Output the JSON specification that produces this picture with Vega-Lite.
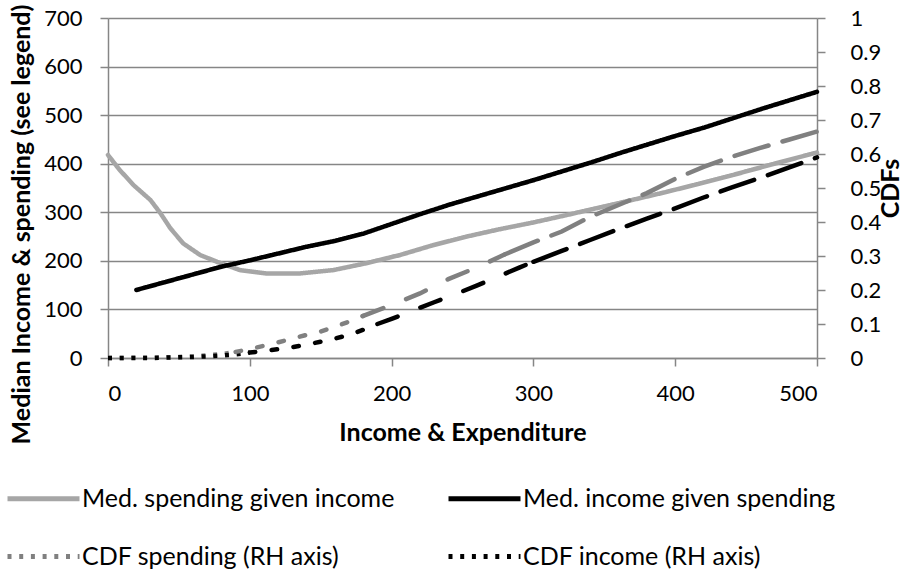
{
  "$schema": "https://vega.github.io/schema/vega-lite/v6.json",
  "width": 709,
  "height": 340,
  "autosize": "none",
  "padding": {"left": 108, "top": 18, "right": 89, "bottom": 212},
  "config": {
    "view": {"stroke": null},
    "font": "Lato",
    "axis": {
      "domainColor": "#868686",
      "domainWidth": 1.5,
      "tickColor": "#868686",
      "tickWidth": 1.5,
      "tickSize": 8,
      "gridColor": "#868686",
      "gridWidth": 1.5,
      "labelColor": "#000000",
      "labelFont": "Lato",
      "labelFontSize": 22,
      "titleFont": "Lato",
      "titleFontSize": 25,
      "titleFontWeight": "bold",
      "titleColor": "#000000"
    }
  },
  "datasets": {
    "med": [
      {"series": "Med. spending given income", "x": 0, "y": 418},
      {"series": "Med. spending given income", "x": 8, "y": 388},
      {"series": "Med. spending given income", "x": 18, "y": 356},
      {"series": "Med. spending given income", "x": 30, "y": 325},
      {"series": "Med. spending given income", "x": 37, "y": 298},
      {"series": "Med. spending given income", "x": 44, "y": 267},
      {"series": "Med. spending given income", "x": 53, "y": 236},
      {"series": "Med. spending given income", "x": 65, "y": 212},
      {"series": "Med. spending given income", "x": 77, "y": 198},
      {"series": "Med. spending given income", "x": 93, "y": 181},
      {"series": "Med. spending given income", "x": 112, "y": 174},
      {"series": "Med. spending given income", "x": 135, "y": 174},
      {"series": "Med. spending given income", "x": 159, "y": 181},
      {"series": "Med. spending given income", "x": 182, "y": 195},
      {"series": "Med. spending given income", "x": 206, "y": 212},
      {"series": "Med. spending given income", "x": 229, "y": 232},
      {"series": "Med. spending given income", "x": 253, "y": 250},
      {"series": "Med. spending given income", "x": 276, "y": 265},
      {"series": "Med. spending given income", "x": 300, "y": 279},
      {"series": "Med. spending given income", "x": 323, "y": 294},
      {"series": "Med. spending given income", "x": 359, "y": 318},
      {"series": "Med. spending given income", "x": 394, "y": 342},
      {"series": "Med. spending given income", "x": 420, "y": 361},
      {"series": "Med. spending given income", "x": 441, "y": 377},
      {"series": "Med. spending given income", "x": 470, "y": 400},
      {"series": "Med. spending given income", "x": 500, "y": 423},
      {"series": "Med. income given spending", "x": 20, "y": 140},
      {"series": "Med. income given spending", "x": 40, "y": 156},
      {"series": "Med. income given spending", "x": 60, "y": 172},
      {"series": "Med. income given spending", "x": 80, "y": 188},
      {"series": "Med. income given spending", "x": 100, "y": 201},
      {"series": "Med. income given spending", "x": 120, "y": 215},
      {"series": "Med. income given spending", "x": 140, "y": 229},
      {"series": "Med. income given spending", "x": 160, "y": 241},
      {"series": "Med. income given spending", "x": 180, "y": 256},
      {"series": "Med. income given spending", "x": 200, "y": 276},
      {"series": "Med. income given spending", "x": 220, "y": 296},
      {"series": "Med. income given spending", "x": 240, "y": 315},
      {"series": "Med. income given spending", "x": 260, "y": 332},
      {"series": "Med. income given spending", "x": 280, "y": 349},
      {"series": "Med. income given spending", "x": 300, "y": 366},
      {"series": "Med. income given spending", "x": 320, "y": 384},
      {"series": "Med. income given spending", "x": 340, "y": 402},
      {"series": "Med. income given spending", "x": 360, "y": 421},
      {"series": "Med. income given spending", "x": 380, "y": 439},
      {"series": "Med. income given spending", "x": 400, "y": 457},
      {"series": "Med. income given spending", "x": 420, "y": 474},
      {"series": "Med. income given spending", "x": 440, "y": 493},
      {"series": "Med. income given spending", "x": 460, "y": 512},
      {"series": "Med. income given spending", "x": 480, "y": 530},
      {"series": "Med. income given spending", "x": 500, "y": 548}
    ],
    "cdf": [
      {"series": "CDF spending (RH axis)", "part": "dot", "x": 0, "c": 0},
      {"series": "CDF spending (RH axis)", "part": "dot", "x": 10, "c": 0},
      {"series": "CDF spending (RH axis)", "part": "dot", "x": 20, "c": 0.001},
      {"series": "CDF spending (RH axis)", "part": "dot", "x": 30, "c": 0.001},
      {"series": "CDF spending (RH axis)", "part": "dot", "x": 40, "c": 0.002},
      {"series": "CDF spending (RH axis)", "part": "dot", "x": 50, "c": 0.003},
      {"series": "CDF spending (RH axis)", "part": "dot", "x": 60, "c": 0.005},
      {"series": "CDF spending (RH axis)", "part": "dot", "x": 70, "c": 0.008},
      {"series": "CDF spending (RH axis)", "part": "dot", "x": 80, "c": 0.011},
      {"series": "CDF spending (RH axis)", "part": "dot", "x": 90, "c": 0.018},
      {"series": "CDF spending (RH axis)", "part": "short", "x": 90, "c": 0.018},
      {"series": "CDF spending (RH axis)", "part": "short", "x": 100, "c": 0.026},
      {"series": "CDF spending (RH axis)", "part": "short", "x": 110, "c": 0.036},
      {"series": "CDF spending (RH axis)", "part": "short", "x": 120, "c": 0.046},
      {"series": "CDF spending (RH axis)", "part": "short", "x": 130, "c": 0.057},
      {"series": "CDF spending (RH axis)", "part": "short", "x": 140, "c": 0.068},
      {"series": "CDF spending (RH axis)", "part": "short", "x": 150, "c": 0.078},
      {"series": "CDF spending (RH axis)", "part": "short", "x": 160, "c": 0.092},
      {"series": "CDF spending (RH axis)", "part": "short", "x": 170, "c": 0.107},
      {"series": "CDF spending (RH axis)", "part": "short", "x": 180, "c": 0.124},
      {"series": "CDF spending (RH axis)", "part": "mid", "x": 180, "c": 0.124},
      {"series": "CDF spending (RH axis)", "part": "mid", "x": 190, "c": 0.14},
      {"series": "CDF spending (RH axis)", "part": "mid", "x": 200, "c": 0.156},
      {"series": "CDF spending (RH axis)", "part": "mid", "x": 220, "c": 0.19},
      {"series": "CDF spending (RH axis)", "part": "mid", "x": 240, "c": 0.232},
      {"series": "CDF spending (RH axis)", "part": "mid", "x": 260, "c": 0.266},
      {"series": "CDF spending (RH axis)", "part": "mid", "x": 280, "c": 0.305},
      {"series": "CDF spending (RH axis)", "part": "long", "x": 280, "c": 0.305},
      {"series": "CDF spending (RH axis)", "part": "long", "x": 300, "c": 0.34},
      {"series": "CDF spending (RH axis)", "part": "long", "x": 320, "c": 0.372},
      {"series": "CDF spending (RH axis)", "part": "long", "x": 340, "c": 0.415},
      {"series": "CDF spending (RH axis)", "part": "long", "x": 360, "c": 0.45},
      {"series": "CDF spending (RH axis)", "part": "long", "x": 380, "c": 0.485},
      {"series": "CDF spending (RH axis)", "part": "long", "x": 400, "c": 0.527},
      {"series": "CDF spending (RH axis)", "part": "long", "x": 420, "c": 0.562},
      {"series": "CDF spending (RH axis)", "part": "long", "x": 440, "c": 0.592},
      {"series": "CDF spending (RH axis)", "part": "long", "x": 460, "c": 0.618},
      {"series": "CDF spending (RH axis)", "part": "long", "x": 480, "c": 0.642},
      {"series": "CDF spending (RH axis)", "part": "long", "x": 500, "c": 0.666},
      {"series": "CDF income (RH axis)", "part": "dot", "x": 0, "c": 0},
      {"series": "CDF income (RH axis)", "part": "dot", "x": 10, "c": 0},
      {"series": "CDF income (RH axis)", "part": "dot", "x": 20, "c": 0},
      {"series": "CDF income (RH axis)", "part": "dot", "x": 30, "c": 0},
      {"series": "CDF income (RH axis)", "part": "dot", "x": 40, "c": 0.001},
      {"series": "CDF income (RH axis)", "part": "dot", "x": 50, "c": 0.002},
      {"series": "CDF income (RH axis)", "part": "dot", "x": 60, "c": 0.003},
      {"series": "CDF income (RH axis)", "part": "dot", "x": 70, "c": 0.005},
      {"series": "CDF income (RH axis)", "part": "dot", "x": 80, "c": 0.007},
      {"series": "CDF income (RH axis)", "part": "dot", "x": 90, "c": 0.011},
      {"series": "CDF income (RH axis)", "part": "dot", "x": 100, "c": 0.016},
      {"series": "CDF income (RH axis)", "part": "short", "x": 100, "c": 0.016},
      {"series": "CDF income (RH axis)", "part": "short", "x": 110, "c": 0.021},
      {"series": "CDF income (RH axis)", "part": "short", "x": 120, "c": 0.026},
      {"series": "CDF income (RH axis)", "part": "short", "x": 130, "c": 0.032},
      {"series": "CDF income (RH axis)", "part": "short", "x": 140, "c": 0.039},
      {"series": "CDF income (RH axis)", "part": "short", "x": 150, "c": 0.048},
      {"series": "CDF income (RH axis)", "part": "short", "x": 160, "c": 0.057},
      {"series": "CDF income (RH axis)", "part": "short", "x": 170, "c": 0.068},
      {"series": "CDF income (RH axis)", "part": "short", "x": 180, "c": 0.083},
      {"series": "CDF income (RH axis)", "part": "short", "x": 190, "c": 0.1},
      {"series": "CDF income (RH axis)", "part": "mid", "x": 190, "c": 0.1},
      {"series": "CDF income (RH axis)", "part": "mid", "x": 200, "c": 0.115},
      {"series": "CDF income (RH axis)", "part": "mid", "x": 210, "c": 0.131},
      {"series": "CDF income (RH axis)", "part": "mid", "x": 220, "c": 0.148},
      {"series": "CDF income (RH axis)", "part": "mid", "x": 230, "c": 0.164},
      {"series": "CDF income (RH axis)", "part": "mid", "x": 240, "c": 0.18},
      {"series": "CDF income (RH axis)", "part": "mid", "x": 250, "c": 0.196},
      {"series": "CDF income (RH axis)", "part": "mid", "x": 260, "c": 0.213},
      {"series": "CDF income (RH axis)", "part": "mid", "x": 270, "c": 0.23},
      {"series": "CDF income (RH axis)", "part": "mid", "x": 280, "c": 0.248},
      {"series": "CDF income (RH axis)", "part": "mid", "x": 290, "c": 0.266},
      {"series": "CDF income (RH axis)", "part": "mid", "x": 300, "c": 0.283},
      {"series": "CDF income (RH axis)", "part": "long", "x": 300, "c": 0.283},
      {"series": "CDF income (RH axis)", "part": "long", "x": 320, "c": 0.315},
      {"series": "CDF income (RH axis)", "part": "long", "x": 340, "c": 0.347},
      {"series": "CDF income (RH axis)", "part": "long", "x": 360, "c": 0.379},
      {"series": "CDF income (RH axis)", "part": "long", "x": 380, "c": 0.41},
      {"series": "CDF income (RH axis)", "part": "long", "x": 400, "c": 0.44},
      {"series": "CDF income (RH axis)", "part": "long", "x": 420, "c": 0.472},
      {"series": "CDF income (RH axis)", "part": "long", "x": 440, "c": 0.502},
      {"series": "CDF income (RH axis)", "part": "long", "x": 460, "c": 0.53},
      {"series": "CDF income (RH axis)", "part": "long", "x": 480, "c": 0.56},
      {"series": "CDF income (RH axis)", "part": "long", "x": 500, "c": 0.59}
    ]
  },
  "layer": [
    {
      "data": {"name": "med"},
      "mark": {"type": "line", "strokeWidth": 4.5, "strokeCap": "round", "strokeJoin": "round"},
      "encoding": {
        "x": {
          "field": "x", "type": "quantitative",
          "scale": {"domain": [0, 500], "nice": false},
          "axis": {
            "values": [0, 100, 200, 300, 400, 500],
            "grid": false,
            "labelPadding": 17,
            "title": "Income & Expenditure",
            "titlePadding": 16
          }
        },
        "y": {
          "field": "y", "type": "quantitative",
          "scale": {"domain": [0, 700], "nice": false},
          "axis": {
            "orient": "left",
            "values": [0, 100, 200, 300, 400, 500, 600, 700],
            "grid": true,
            "labelPadding": 18,
            "title": "Median Income & spending (see legend)",
            "titlePadding": 9,
            "titleY": 206
          }
        },
        "color": {
          "field": "series", "type": "nominal",
          "scale": {
            "domain": ["Med. spending given income", "CDF spending (RH axis)", "Med. income given spending", "CDF income (RH axis)"],
            "range": ["#a6a6a6", "#808080", "#000000", "#000000"]
          },
          "legend": {
            "title": null,
            "orient": "none",
            "legendX": -103,
            "legendY": 442,
            "columns": 2,
            "symbolType": "stroke",
            "symbolSize": 5184,
            "symbolStrokeWidth": 5,
            "labelFont": "Lato",
            "labelFontSize": 25,
            "labelColor": "#000000",
            "labelOffset": 0,
            "labelLimit": 500,
            "columnPadding": 43,
            "rowPadding": 6
          }
        },
        "strokeDash": {
          "field": "series", "type": "nominal",
          "scale": {
            "domain": ["Med. spending given income", "CDF spending (RH axis)", "Med. income given spending", "CDF income (RH axis)"],
            "range": [[1, 0], [4, 7.7], [1, 0], [4, 7.7]]
          },
          "legend": {"title": null}
        }
      }
    },
    {
      "data": {"name": "cdf"},
      "encoding": {
        "x": {"field": "x", "type": "quantitative"},
        "y": {
          "field": "c", "type": "quantitative",
          "scale": {"domain": [0, 1], "nice": false},
          "axis": {
            "orient": "right",
            "values": [0, 0.1, 0.2, 0.3, 0.4, 0.5, 0.6, 0.7, 0.8, 0.9, 1],
            "format": "~g",
            "grid": false,
            "labelPadding": 25,
            "title": "CDFs",
            "titleAngle": -90,
            "titleBaseline": "top",
            "titlePadding": -2
          }
        },
        "color": {"field": "series", "type": "nominal"}
      },
      "layer": [
        {
          "transform": [{"filter": "datum.part === 'dot'"}],
          "mark": {"type": "line", "strokeWidth": 4.5, "strokeCap": "butt"},
          "encoding": {
            "strokeDash": {"field": "series", "type": "nominal"}
          }
        },
        {
          "transform": [{"filter": "datum.part === 'short'"}],
          "mark": {"type": "line", "strokeWidth": 4.5, "strokeCap": "round", "strokeDash": [5.5, 16.5]}
        },
        {
          "transform": [{"filter": "datum.part === 'mid'"}],
          "mark": {"type": "line", "strokeWidth": 4.5, "strokeCap": "round", "strokeDash": [21.5, 24.5]}
        },
        {
          "transform": [{"filter": "datum.part === 'long'"}],
          "mark": {"type": "line", "strokeWidth": 4.5, "strokeCap": "round", "strokeDash": [35.5, 14.5]}
        }
      ]
    }
  ],
  "resolve": {"scale": {"y": "independent"}}
}
